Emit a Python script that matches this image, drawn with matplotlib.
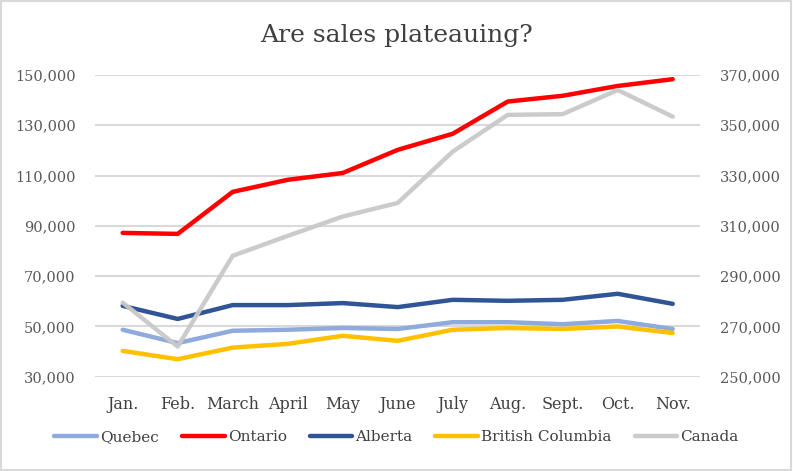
import matplotlib
matplotlib.use("Agg")
import matplotlib.pyplot as plt
from matplotlib.ticker import FuncFormatter
from matplotlib.patches import Rectangle

months = ["Jan.", "Feb.", "March", "April", "May", "June", "July", "Aug.", "Sept.", "Oct.", "Nov."]
quebec = [48700, 43400, 48300, 48700, 49400, 49000, 51700, 51700, 50900, 52200, 49000]
ontario = [87200, 86800, 103500, 108300, 111000, 120200, 126600, 139400, 141700, 145600, 148300]
alberta = [58200, 53000, 58500, 58500, 59300, 57700, 60600, 60200, 60600, 63000, 59000]
bc = [40300, 37000, 41600, 43100, 46300, 44300, 48700, 49400, 49000, 50000, 47400]
canada = [279500, 262000, 298100, 306000, 313700, 319100, 339500, 354100, 354400, 364000, 353400]

left_ticks = [30000, 50000, 70000, 90000, 110000, 130000, 150000]
right_ticks = [250000, 270000, 290000, 310000, 330000, 350000, 370000]

FONT = "DejaVu Serif"
fig = plt.figure(figsize=(7.93, 4.71), dpi=100)
fig.patches.append(Rectangle((0.001, 0.002), 0.997, 0.996, transform=fig.transFigure,
                             fill=False, edgecolor="#D9D9D9", linewidth=1.5))
ax = fig.add_axes([0.12, 0.2, 0.763, 0.641])
ax2 = ax.twinx()

x = list(range(len(months)))
lw = 3.2
l1, = ax.plot(x, quebec, color="#8FAADC", lw=lw, solid_capstyle="round", label="Quebec")
l2, = ax.plot(x, ontario, color="#FF0000", lw=lw, solid_capstyle="round", label="Ontario")
l3, = ax.plot(x, alberta, color="#2F5597", lw=lw, solid_capstyle="round", label="Alberta")
l4, = ax.plot(x, bc, color="#FFC000", lw=lw, solid_capstyle="round", label="British Columbia")
l5, = ax2.plot(x, canada, color="#C9C9C9", lw=lw, solid_capstyle="round", alpha=0.95, label="Canada")

ax.set_xlim(-0.5, len(months) - 0.5)
ax.set_ylim(30000, 150000)
ax2.set_ylim(250000, 370000)
ax.set_yticks(left_ticks)
ax2.set_yticks(right_ticks)
fmt = FuncFormatter(lambda v, p: f"{int(v):,}")
ax.yaxis.set_major_formatter(fmt)
ax2.yaxis.set_major_formatter(fmt)
ax.set_xticks(x)
ax.set_xticklabels(months, fontfamily=FONT, fontsize=11.5, color="#404040")
for lab in ax.get_yticklabels():
    lab.set_fontfamily(FONT); lab.set_fontsize(10.5); lab.set_color("#595959")
for lab in ax2.get_yticklabels():
    lab.set_fontfamily(FONT); lab.set_fontsize(10.5); lab.set_color("#595959")

ax.grid(axis="y", color="#D9D9D9", linewidth=1.5)
ax.set_axisbelow(True)
for a in (ax, ax2):
    for s in a.spines.values():
        s.set_visible(False)
    a.tick_params(length=0)
ax.tick_params(axis="x", pad=14)
ax.tick_params(axis="y", pad=14)
ax2.tick_params(axis="y", pad=14)

fig.text(0.5, 0.925, "Are sales plateauing?", ha="center", va="center",
         fontfamily=FONT, fontsize=18, color="#404040")

fig.legend(handles=[l1, l2, l3, l4, l5], loc="center", bbox_to_anchor=(0.5, 0.072),
           ncol=5, frameon=False, prop={"family": FONT, "size": 11},
           labelcolor="#404040", handlelength=2.8, handletextpad=0.2, columnspacing=1.5)

fig.savefig("out.png", dpi=100)
